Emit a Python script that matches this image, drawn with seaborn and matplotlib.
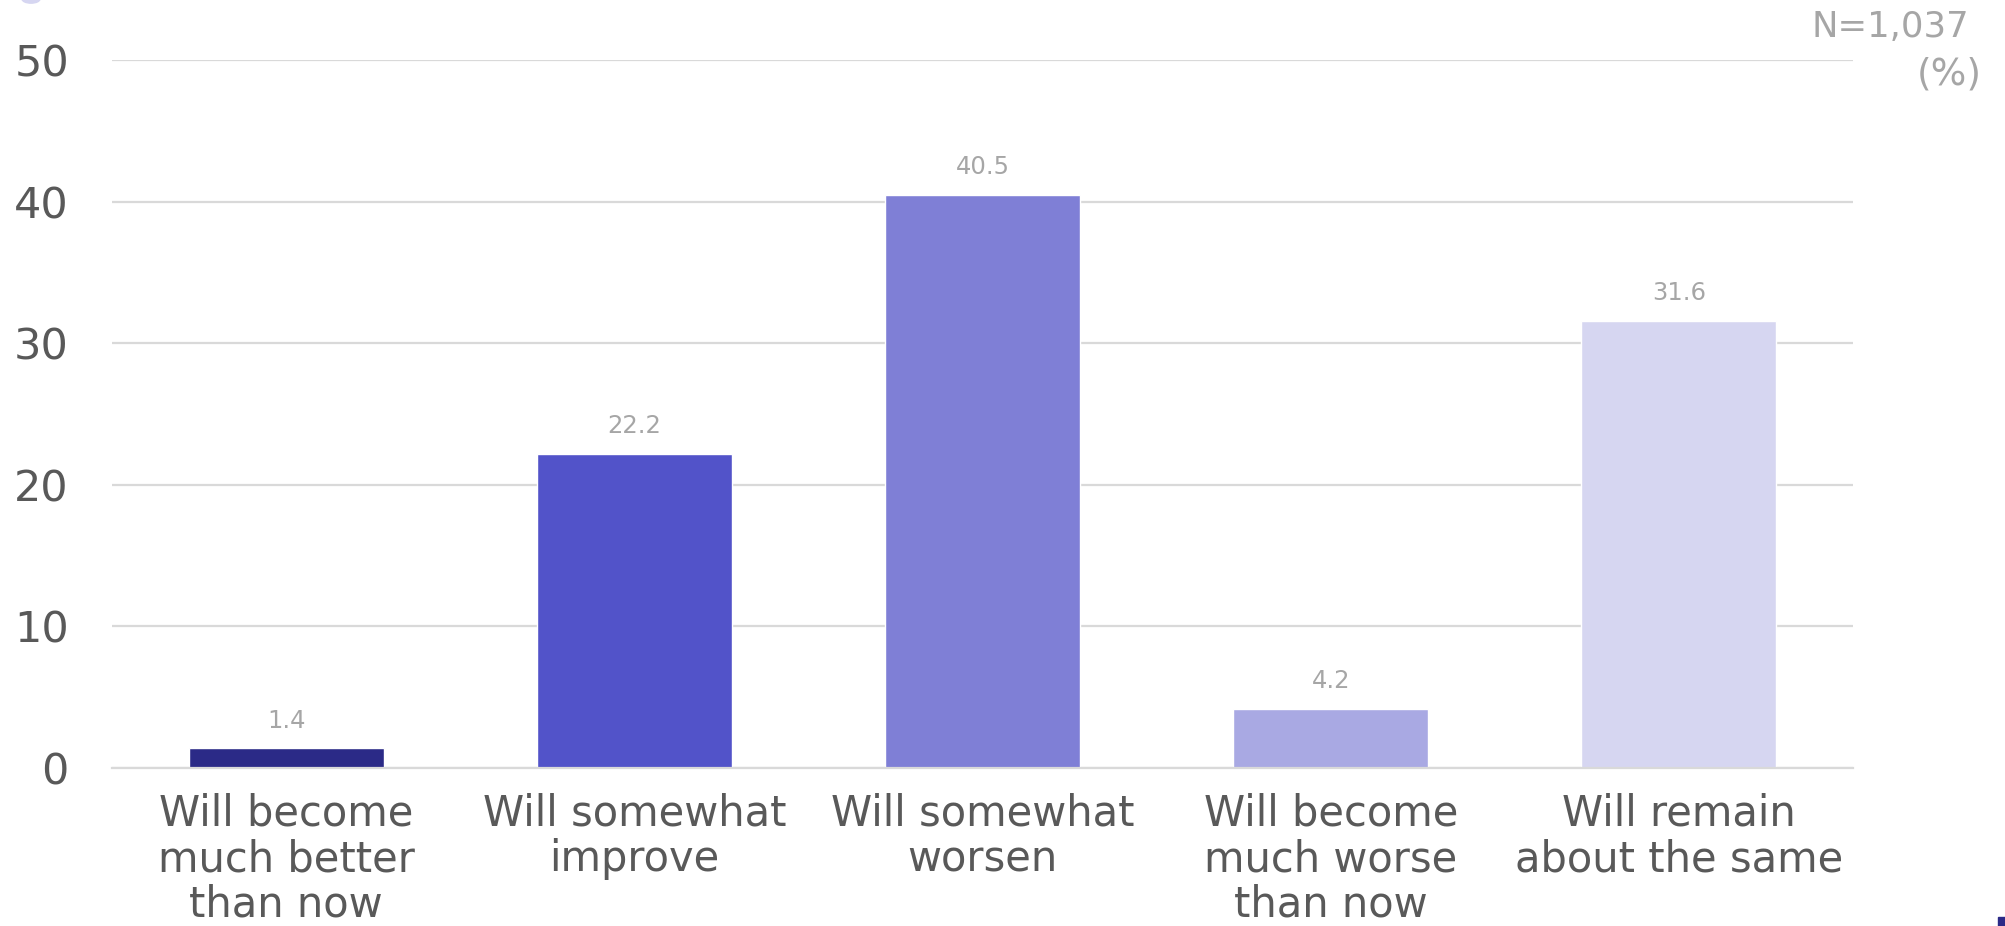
import matplotlib
matplotlib.use("Agg")
import matplotlib.pyplot as plt
import seaborn as sns
import pandas as pd
from matplotlib.patches import Circle, Rectangle

categories = ["Will become\nmuch better\nthan now", "Will somewhat\nimprove", "Will somewhat\nworsen",
              "Will become\nmuch worse\nthan now", "Will remain\nabout the same"]
values = [1.4, 22.2, 40.5, 4.2, 31.6]
colors = ["#2B2A87", "#5253C9", "#7F7FD6", "#A9A9E3", "#D6D6F1"]
yticks = [0, 10, 20, 30, 40, 50]

sns.set_theme(style="white")
plt.rcParams['font.family'] = ['DejaVu Sans']

df = pd.DataFrame({"cat": categories, "val": values})

fig = plt.figure(figsize=(20.05, 9.26), dpi=100)
ax = fig.add_axes([112/2005, 1-768/926, (1853-112)/2005, (768-60)/926])

sns.barplot(data=df, x="cat", y="val", hue="cat", palette=colors, legend=False,
            width=0.56, saturation=1, ax=ax)

ax.set_ylim(0, 50)
ax.set_xlim(-0.5, 4.5)
ax.set_yticks(yticks)
ax.grid(axis="y", color="#D9D9D9", linewidth=1.6)
ax.set_axisbelow(True)
for s in ["top", "right", "left"]:
    ax.spines[s].set_visible(False)
ax.spines["bottom"].set_color("#D9D9D9")
ax.spines["bottom"].set_linewidth(1.6)
ax.set_xlabel("")
ax.set_ylabel("")
ax.tick_params(axis="y", length=0, pad=31, labelsize=31, labelcolor="#595959")
ax.tick_params(axis="x", length=0, pad=18, labelsize=30, labelcolor="#595959")
for lab in ax.get_xticklabels():
    lab.set_linespacing(1.1)
    lab.set_multialignment("center")

for c in ax.containers:
    ax.bar_label(c, fmt="%.1f", padding=11, fontsize=17.5, color="#A6A6A6")

fig.text(1969/2005, 1-27/926, "N=1,037", ha="right", va="center", fontsize=25.5, color="#A6A6A6")
fig.text(1982/2005, 1-74/926, "(%)", ha="right", va="center", fontsize=27, color="#A6A6A6")

fig.patches.append(Circle((31/2005, 1+1/926), 0.0045, transform=fig.transFigure,
                          color="#D6D6F1", zorder=5))
fig.patches.append(Rectangle((1998/2005, 0), 7/2005, 9/926, transform=fig.transFigure,
                             color="#2B2A87", zorder=5))

fig.savefig("out.png", dpi=100)
